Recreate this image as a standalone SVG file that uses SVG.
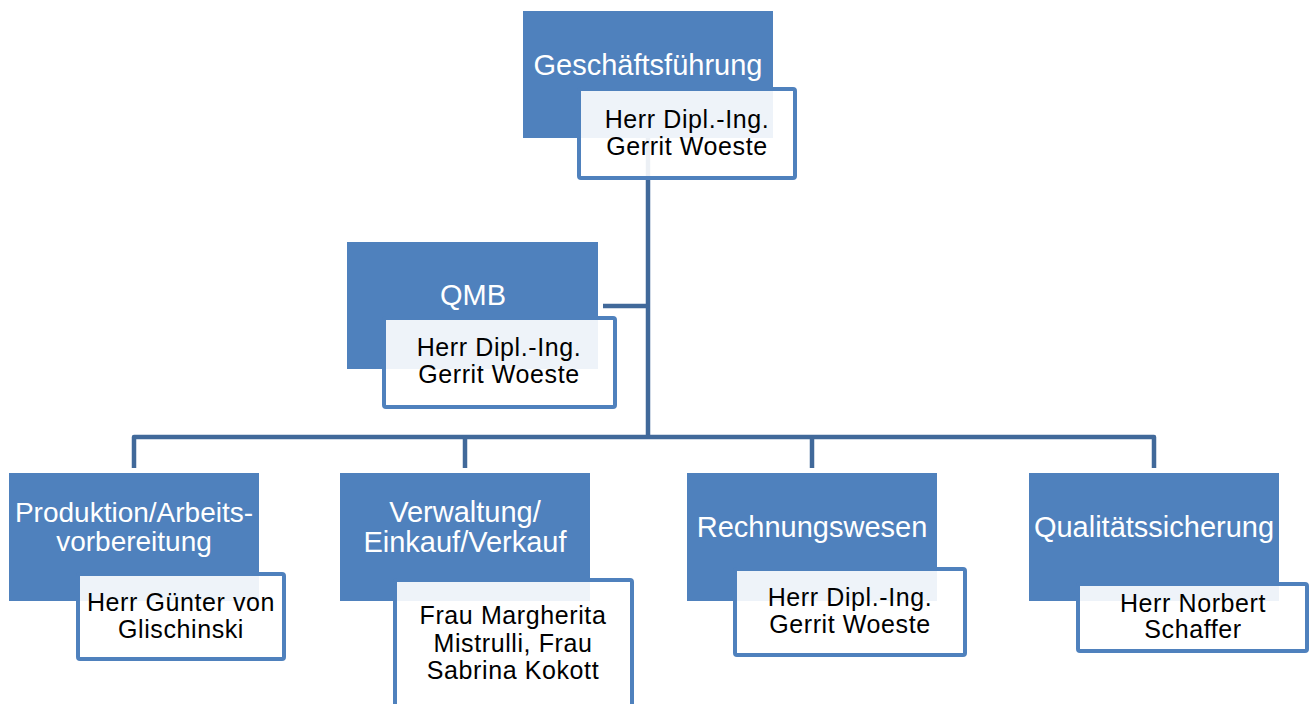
<svg xmlns="http://www.w3.org/2000/svg" width="1316" height="704" viewBox="0 0 1316 704">
<style>
.blue{fill:#4F81BD}
.card{fill:#FFFFFF;fill-opacity:0.9;stroke:#4F81BD;stroke-width:4}
.conn{fill:none;stroke:#41699A;stroke-width:4.5;stroke-linejoin:round}
.t{font-family:"Liberation Sans",Arial,sans-serif;font-size:29px;fill:#FFFFFF;text-anchor:middle}
.t2{font-size:28px}
.s{font-family:"Liberation Sans",Arial,sans-serif;font-size:25px;letter-spacing:0.6px;fill:#000000;text-anchor:middle}
</style>
<rect width="1316" height="704" fill="#FFFFFF"/>
<g id="connectors">
<path class="conn" d="M648,138 V437"/>
<path class="conn" d="M603,306 H648"/>
<path class="conn" d="M134,468 V437 H1154 V468"/>
<path class="conn" d="M465,437 V468"/>
<path class="conn" d="M812,437 V468"/>
</g>
<g id="geschaeftsfuehrung">
<rect class="blue" x="523" y="11" width="250" height="127"/>
<text class="t" x="648" y="75">Geschäftsführung</text>
<rect class="card" x="579" y="89" width="216" height="89" rx="2"/>
<text class="s" x="687" y="128">Herr Dipl.-Ing.</text>
<text class="s" x="687" y="155">Gerrit Woeste</text>
</g>
<g id="qmb">
<rect class="blue" x="347" y="242" width="251" height="127"/>
<text class="t" x="473" y="305">QMB</text>
<rect class="card" x="384" y="318" width="231" height="89" rx="2"/>
<text class="s" x="499" y="356">Herr Dipl.-Ing.</text>
<text class="s" x="499" y="383">Gerrit Woeste</text>
</g>
<g id="produktion">
<rect class="blue" x="9" y="473" width="250" height="128"/>
<text class="t t2" x="134" y="522">Produktion/Arbeits-</text>
<text class="t t2" x="134" y="551">vorbereitung</text>
<rect class="card" x="78" y="574" width="206" height="85" rx="2"/>
<text class="s" x="181" y="611">Herr Günter von</text>
<text class="s" x="181" y="638">Glischinski</text>
</g>
<g id="verwaltung">
<rect class="blue" x="340" y="473" width="250" height="128"/>
<text class="t" x="465" y="522">Verwaltung/</text>
<text class="t" x="465" y="552">Einkauf/Verkauf</text>
<rect class="card" x="395" y="580" width="237" height="140" rx="2"/>
<text class="s" x="513" y="624">Frau Margherita</text>
<text class="s" x="513" y="652">Mistrulli, Frau</text>
<text class="s" x="513" y="679">Sabrina Kokott</text>
</g>
<g id="rechnungswesen">
<rect class="blue" x="687" y="473" width="250" height="128"/>
<text class="t" x="812" y="537">Rechnungswesen</text>
<rect class="card" x="735" y="569" width="230" height="86" rx="2"/>
<text class="s" x="850" y="606">Herr Dipl.-Ing.</text>
<text class="s" x="850" y="633">Gerrit Woeste</text>
</g>
<g id="qualitaetssicherung">
<rect class="blue" x="1029" y="473" width="250" height="128"/>
<text class="t" x="1154" y="537">Qualitätssicherung</text>
<rect class="card" x="1078" y="584" width="229" height="67" rx="2"/>
<text class="s" x="1193" y="612">Herr Norbert</text>
<text class="s" x="1193" y="638">Schaffer</text>
</g>
</svg>
